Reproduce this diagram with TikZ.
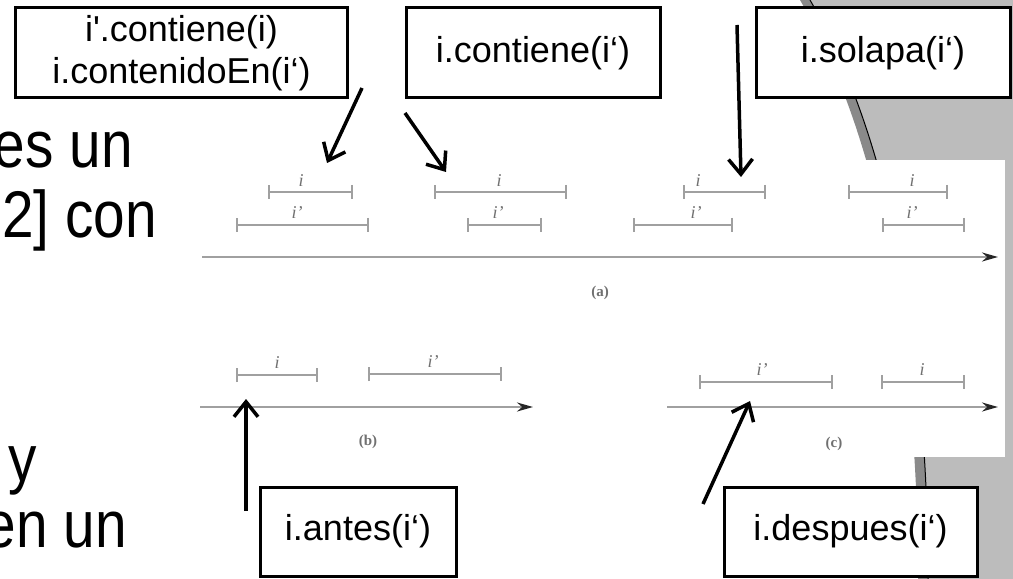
\documentclass[tikz,border=0pt]{standalone}
\usepackage{graphicx}
\usepackage{fontspec}
\newfontfamily\arialfont{Liberation Sans}
\newfontfamily\romanfont{Liberation Serif}
\usetikzlibrary{arrows.meta}

\definecolor{dither}{HTML}{BCBCBC}
\definecolor{ditherdark}{HTML}{8A8A8A}
\definecolor{scanline}{HTML}{A0A0A0}
\definecolor{scantext}{HTML}{707070}

% body text of the slide, set a little narrow
\newcommand{\narrowline}[1]{\scalebox{0.86}[1]{#1}}

\begin{document}
\begin{tikzpicture}[x=1bp,y=-1bp,
  callout/.style={draw=black, line width=3bp, fill=white, inner sep=0pt,
    align=center, font=\arialfont\fontsize{36bp}{42bp}\selectfont},
  pointer/.style={line width=3.5bp,
    -{Straight Barb[length=15bp,width=24bp,line width=3.5bp]}},
  ibar/.style={draw=scanline, line width=2.2bp,
    {Bar[width=14bp,line width=2bp]}-{Bar[width=14bp,line width=2bp]}},
  ilabel/.style={text=scantext, inner sep=0pt,
    font=\romanfont\itshape\fontsize{18bp}{18bp}\selectfont},
  panel/.style={text=scantext, inner sep=0pt,
    font=\romanfont\bfseries\fontsize{15bp}{15bp}\selectfont},
  timeaxis/.style={draw=scanline, line width=2.2bp,
    -{Stealth[length=16bp,width=9bp,black!85]}},
  body/.style={inner sep=0pt, anchor=base east,
    font=\arialfont\fontsize{66bp}{70bp}\selectfont}
]
\useasboundingbox (0,0) rectangle (1013,579);
\clip (0,0) rectangle (1013,579);
\fill[white] (0,0) rectangle (1013,579);

% slide decoration: shaded band on the right
\fill[ditherdark] (800,0) .. controls (875,130) and (918,330) .. (918,579)
  -- (1013,579) -- (1013,0) -- cycle;
\fill[dither] (810,0) .. controls (885,130) and (928,330) .. (928,579)
  -- (1013,579) -- (1013,0) -- cycle;
\draw[line width=1bp] (810,0) .. controls (885,130) and (928,330) .. (928,579);

% body text of the slide
\node[body] (t1) at (133,168) {\narrowline{es un}};
\node[body] (t2) at (157,238) {\narrowline{2] con}};
\node[body] (t3) at (37,481) {\narrowline{y}};
\node[body] (t4) at (127,547) {\narrowline{en un}};

% figure with the interval relations
\fill[white] (190,160) rectangle (1005,457);

% (a)
\draw[timeaxis] (202,257) -- (998,257);
\node[panel] (pa) at (600,293) {(a)};
\draw[ibar] (268,192) -- (353,192);
\node[ilabel] (la1) at (301,181) {i};
\draw[ibar] (236,225) -- (369,225);
\node[ilabel] (la2) at (297,213) {i’};
\draw[ibar] (434,192) -- (567,192);
\node[ilabel] (la3) at (499,181) {i};
\draw[ibar] (467,225) -- (542,225);
\node[ilabel] (la4) at (498,213) {i’};
\draw[ibar] (683,192) -- (766,192);
\node[ilabel] (la5) at (698,181) {i};
\draw[ibar] (633,225) -- (733,225);
\node[ilabel] (la6) at (696,213) {i’};
\draw[ibar] (848,192) -- (948,192);
\node[ilabel] (la7) at (912,181) {i};
\draw[ibar] (882,225) -- (965,225);
\node[ilabel] (la8) at (912,213) {i’};

% (b)
\draw[timeaxis] (200,407) -- (533,407);
\node[panel] (pb) at (368,442) {(b)};
\draw[ibar] (236,375) -- (318,375);
\node[ilabel] (lb1) at (277,363) {i};
\draw[ibar] (368,374) -- (502,374);
\node[ilabel] (lb2) at (433,362) {i’};

% (c)
\draw[timeaxis] (667,407) -- (998,407);
\node[panel] (pc) at (834,444) {(c)};
\draw[ibar] (699,382) -- (833,382);
\node[ilabel] (lc1) at (762,370) {i’};
\draw[ibar] (881,382) -- (965,382);
\node[ilabel] (lc2) at (922,370) {i};

% callouts
\node[callout, minimum width=331bp, minimum height=90bp] (contenido) at (181.5,53)
  {i'.contiene(i)\\i.contenidoEn(i‘)};
\node[callout, minimum width=254bp, minimum height=90bp] (contiene) at (533,53)
  {i.contiene(i‘)};
\node[callout, minimum width=254bp, minimum height=90bp] (solapa) at (883,53)
  {i.solapa(i‘)};
\node[callout, minimum width=196bp, minimum height=89bp] (antes) at (358,531.5)
  {i.antes(i‘)};
\node[callout, minimum width=253bp, minimum height=89bp] (despues) at (850.5,531.5)
  {i.despues(i‘)};

% pointers
\coordinate (c1s) at (362,88);  \coordinate (c1e) at (327,163);
\coordinate (c2s) at (405,113); \coordinate (c2e) at (446,172);
\coordinate (c3s) at (737,25);  \coordinate (c3e) at (741,177);
\coordinate (c4s) at (246,511); \coordinate (c4e) at (246,399);
\coordinate (c5s) at (703,504); \coordinate (c5e) at (750,401);
\draw[pointer] (c1s) -- (c1e);
\draw[pointer] (c2s) -- (c2e);
\draw[pointer] (c3s) -- (c3e);
\draw[pointer] (c4s) -- (c4e);
\draw[pointer] (c5s) -- (c5e);
\end{tikzpicture}
\end{document}
